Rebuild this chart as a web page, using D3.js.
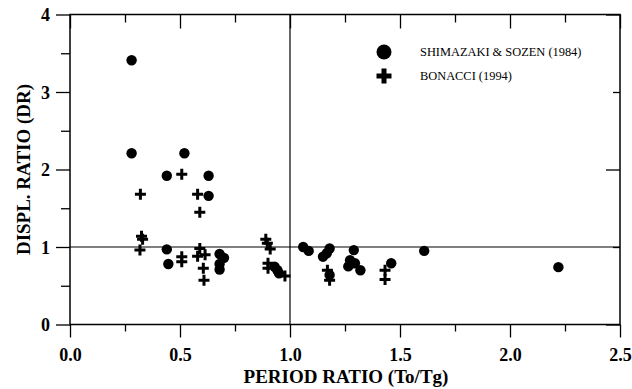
<!DOCTYPE html>
<html>
<head>
<meta charset="utf-8">
<script src="https://cdn.jsdelivr.net/npm/d3@7"></script>
<style>
  body { margin: 0; background: #fff; }
  #canvas { width: 632px; height: 389px; }
  text { font-family: "Liberation Serif", "Times New Roman", serif; fill: #000; }
</style>
</head>
<body>
<div id="canvas" class="canvas"></div>
<script>
// data
var shimazakiX = [0.28, 0.28, 0.52, 0.44, 0.63, 0.63, 0.44, 0.447, 0.68, 0.70, 0.68, 0.68,
                  0.93, 0.943, 0.95, 1.06, 1.085, 1.18, 1.167, 1.15, 1.18,
                  1.29, 1.273, 1.265, 1.295, 1.32, 1.46, 1.61, 2.22];
var shimazakiY = [3.41, 2.21, 2.21, 1.92, 1.92, 1.66, 0.97, 0.78, 0.91, 0.86, 0.78, 0.71,
                  0.745, 0.70, 0.66, 1.00, 0.95, 0.98, 0.92, 0.875, 0.64,
                  0.96, 0.83, 0.75, 0.79, 0.70, 0.79, 0.95, 0.74];
var bonacciX = [0.32, 0.325, 0.33, 0.318, 0.508, 0.508, 0.508, 0.58, 0.59, 0.59, 0.614, 0.58,
                0.606, 0.609, 0.89, 0.897, 0.91, 0.90, 0.90, 0.977, 1.17, 1.18, 1.432, 1.432];
var bonacciY = [1.68, 1.14, 1.10, 0.96, 1.94, 0.875, 0.81, 1.68, 1.45, 0.98, 0.90, 0.88,
                0.725, 0.57, 1.10, 1.05, 0.975, 0.79, 0.725, 0.625, 0.70, 0.57, 0.70, 0.58];
var xTicks = [0, 0.5, 1.0, 1.5, 2.0, 2.5];
var yTicks = [0, 1, 2, 3, 4];
var seriesNames = ['SHIMAZAKI & SOZEN (1984)', 'BONACCI (1994)'];

var m = {t:14.5, r:12, b:64.5, l:70};
var outerWidth = 632, outerHeight = 389;
var w = outerWidth - m.l - m.r,
    h = outerHeight - m.t - m.b;

var svg = d3.select('.canvas')
    .append('svg')
    .attr('width', outerWidth)
    .attr('height', outerHeight);
var plot = svg.append('g')
    .attr('transform', 'translate(' + m.l + ',' + m.t + ')');

var scaleX = d3.scaleLinear().domain([0, 2.5]).range([0, w]);
var scaleY = d3.scaleLinear().domain([0, 4]).range([h, 0]);

function styleAxis(g) {
    g.select('.domain').remove();
    g.selectAll('line').attr('stroke', '#000').attr('stroke-width', 1.3);
}

// minor ticks first
plot.append('g').attr('transform', 'translate(0,' + h + ')')
    .call(d3.axisBottom(scaleX).tickValues(d3.range(0.25, 2.5, 0.5)).tickSize(7).tickFormat(''))
    .call(styleAxis);
plot.append('g')
    .call(d3.axisTop(scaleX).tickValues(d3.range(0.25, 2.5, 0.5)).tickSize(-8).tickFormat(''))
    .call(styleAxis);
plot.append('g')
    .call(d3.axisLeft(scaleY).tickValues(d3.range(0.5, 4, 1)).tickSize(9).tickFormat(''))
    .call(styleAxis);
plot.append('g').attr('transform', 'translate(' + w + ',0)')
    .call(d3.axisRight(scaleY).tickValues([1, 3]).tickSize(-7).tickFormat(''))
    .call(styleAxis);
plot.append('g').attr('transform', 'translate(' + w + ',0)')
    .call(d3.axisRight(scaleY).tickValues([0, 2, 4]).tickSize(-14).tickFormat(''))
    .call(styleAxis);
plot.append('g')
    .call(d3.axisTop(scaleX).tickValues(xTicks).tickSize(-14).tickFormat(''))
    .call(styleAxis);

// major ticks with labels
var axisX = plot.append('g').attr('transform', 'translate(0,' + h + ')')
    .call(d3.axisBottom(scaleX).tickValues(xTicks).tickSize(13).tickPadding(11).tickFormat(d3.format('.1f')))
    .call(styleAxis);
axisX.selectAll('text').style('font-size', '18px').style('font-weight', 'bold')
    .style('font-family', '"Liberation Serif", serif');

var axisY = plot.append('g')
    .call(d3.axisLeft(scaleY).tickValues(yTicks).tickSize(14).tickPadding(6).tickFormat(d3.format('d')))
    .call(styleAxis);
axisY.selectAll('text').style('font-size', '18px').style('font-weight', 'bold')
    .style('font-family', '"Liberation Serif", serif').attr('dy', '0.34em');

// frame
plot.append('rect').attr('width', w).attr('height', h)
    .attr('fill', 'none').attr('stroke', '#000').attr('stroke-width', 1.5);

// reference lines
plot.append('line').attr('x1', 0).attr('x2', w)
    .attr('y1', scaleY(1)).attr('y2', scaleY(1))
    .attr('stroke', '#000').attr('stroke-width', 1.2);
plot.append('line').attr('x1', scaleX(1)).attr('x2', scaleX(1))
    .attr('y1', 0).attr('y2', h)
    .attr('stroke', '#000').attr('stroke-width', 1.2);

// points
plot.selectAll('.dot')
    .data(d3.zip(shimazakiX, shimazakiY))
    .enter().append('circle')
    .attr('class', 'dot')
    .attr('cx', function(d){ return scaleX(d[0]); })
    .attr('cy', function(d){ return scaleY(d[1]); })
    .attr('r', 5.2)
    .attr('fill', '#000');

var plusPath = 'M-5.5,0H5.5M0,-5.5V5.5';
plot.selectAll('.plus')
    .data(d3.zip(bonacciX, bonacciY))
    .enter().append('path')
    .attr('class', 'plus')
    .attr('d', plusPath)
    .attr('transform', function(d){ return 'translate(' + scaleX(d[0]) + ',' + scaleY(d[1]) + ')'; })
    .attr('stroke', '#000')
    .attr('stroke-width', 3)
    .attr('fill', 'none');

// legend
var legend = plot.append('g').attr('transform', 'translate(' + (384 - m.l) + ',' + (52 - m.t) + ')');
legend.append('circle').attr('r', 7.5).attr('fill', '#000');
legend.append('path').attr('d', d3.symbol(d3.symbolCross, 125)())
    .attr('transform', 'translate(0,24)').attr('fill', '#000');
legend.selectAll('.leg-text')
    .data(seriesNames)
    .enter().append('text')
    .attr('class', 'leg-text')
    .attr('x', 36)
    .attr('y', function(d, i){ return i * 24; })
    .attr('dy', '0.35em')
    .style('font-size', '12.4px')
    .text(function(d){ return d; });

// axis titles
svg.append('text')
    .attr('x', m.l + w / 2 + 1)
    .attr('y', 383)
    .attr('text-anchor', 'middle')
    .style('font-size', '19px').style('font-weight', 'bold')
    .text('PERIOD RATIO (To/Tg)');
svg.append('text')
    .attr('transform', 'translate(30,' + (m.t + h / 2) + ') rotate(-90)')
    .attr('text-anchor', 'middle')
    .style('font-size', '19px').style('font-weight', 'bold')
    .text('DISPL. RATIO (DR)');
</script>
</body>
</html>
